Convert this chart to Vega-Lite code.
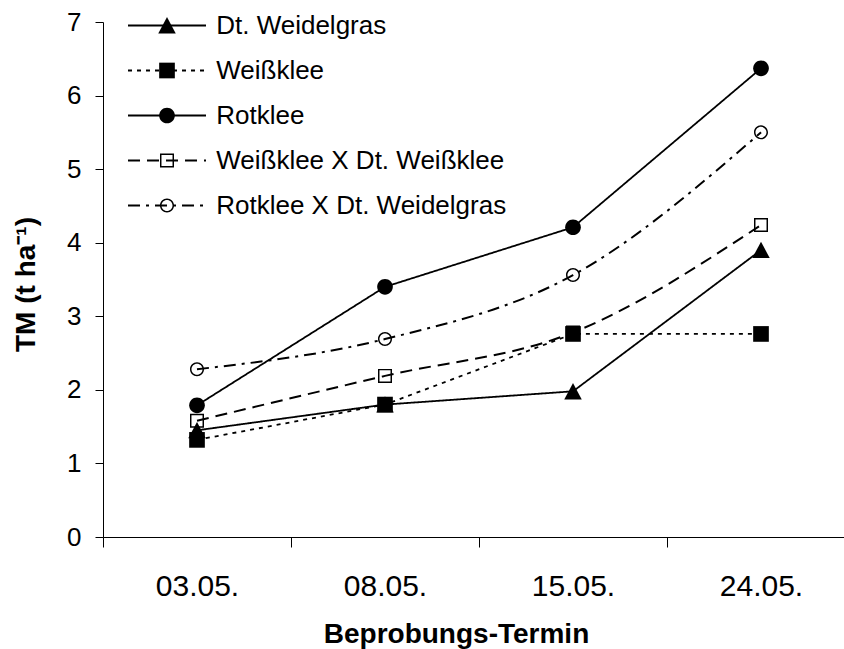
{
  "$schema": "https://vega.github.io/schema/vega-lite/v6.json",
  "autosize": {"type": "none"},
  "width": 741,
  "height": 515,
  "padding": {"left": 103, "top": 22, "right": 0, "bottom": 112},
  "background": "white",
  "config": {
    "view": {"stroke": null},
    "font": "Liberation Sans",
    "axis": {"grid": false, "domainColor": "black", "tickColor": "black", "labelColor": "black", "titleColor": "black", "labelFont": "Liberation Sans", "titleFont": "Liberation Sans", "domainWidth": 1, "tickWidth": 1}
  },
  "data": {
    "values": [
      {"termin": "03.05.", "series": "Dt. Weidelgras", "tm": 1.45},
      {"termin": "08.05.", "series": "Dt. Weidelgras", "tm": 1.8},
      {"termin": "15.05.", "series": "Dt. Weidelgras", "tm": 1.98},
      {"termin": "24.05.", "series": "Dt. Weidelgras", "tm": 3.9},
      {"termin": "03.05.", "series": "Weißklee", "tm": 1.32},
      {"termin": "08.05.", "series": "Weißklee", "tm": 1.8},
      {"termin": "15.05.", "series": "Weißklee", "tm": 2.76},
      {"termin": "24.05.", "series": "Weißklee", "tm": 2.76},
      {"termin": "03.05.", "series": "Rotklee", "tm": 1.79},
      {"termin": "08.05.", "series": "Rotklee", "tm": 3.4},
      {"termin": "15.05.", "series": "Rotklee", "tm": 4.21},
      {"termin": "24.05.", "series": "Rotklee", "tm": 6.37},
      {"termin": "03.05.", "series": "Weißklee X Dt. Weißklee", "tm": 1.58},
      {"termin": "08.05.", "series": "Weißklee X Dt. Weißklee", "tm": 2.19},
      {"termin": "15.05.", "series": "Weißklee X Dt. Weißklee", "tm": 2.78},
      {"termin": "24.05.", "series": "Weißklee X Dt. Weißklee", "tm": 4.24},
      {"termin": "03.05.", "series": "Rotklee X Dt. Weidelgras", "tm": 2.28},
      {"termin": "08.05.", "series": "Rotklee X Dt. Weidelgras", "tm": 2.69},
      {"termin": "15.05.", "series": "Rotklee X Dt. Weidelgras", "tm": 3.56},
      {"termin": "24.05.", "series": "Rotklee X Dt. Weidelgras", "tm": 5.5}
    ]
  },
  "encoding": {
    "x": {
      "field": "termin", "type": "nominal",
      "scale": {"type": "band", "range": [0, 752], "paddingInner": 0, "paddingOuter": 0},
      "axis": {"title": "Beprobungs-Termin", "labelAngle": 0, "labelFontSize": 30, "labelBaseline": "alphabetic", "labelPadding": 48, "titleFontSize": 28, "titleFontWeight": "bold", "titleBaseline": "alphabetic", "titleX": 353, "titleY": 105, "tickBand": "extent", "tickSize": 10}
    },
    "y": {
      "field": "tm", "type": "quantitative",
      "scale": {"domain": [0, 7], "nice": false, "zero": true},
      "axis": {"title": "TM (t ha⁻¹)", "values": [0, 1, 2, 3, 4, 5, 6, 7], "labelFontSize": 26, "titleFontSize": 28, "titleFontWeight": "bold", "titleBaseline": "alphabetic", "titleAngle": 270, "titleX": -69, "titleY": 262, "tickSize": 8, "labelPadding": 14}
    }
  },
  "layer": [
    {
      "transform": [{"filter": "datum.series == 'Dt. Weidelgras' || datum.series == 'Weißklee' || datum.series == 'Rotklee'"}],
      "mark": {"type": "line", "color": "black", "strokeWidth": 1.8, "interpolate": "linear"},
      "encoding": {
        "strokeDash": {
          "field": "series", "type": "nominal",
          "scale": {"domain": ["Dt. Weidelgras", "Weißklee", "Rotklee", "Weißklee X Dt. Weißklee", "Rotklee X Dt. Weidelgras"], "range": [[1, 0], [4, 5], [1, 0], [12, 7], [12, 6, 3, 6]]},
          "legend": {"orient": "none", "legendX": 51.0, "legendY": -9.5, "title": null, "symbolType": "M-5.57,0H5.57", "symbolSize": 196, "symbolStrokeColor": "black", "symbolStrokeWidth": 1.8, "labelFontSize": 26, "labelFont": "Liberation Sans", "labelColor": "black", "labelOffset": 36.2, "rowPadding": 19, "padding": 0, "labelLimit": 500}
        }
      }
    },
    {
      "transform": [{"filter": "datum.series == 'Weißklee X Dt. Weißklee' || datum.series == 'Rotklee X Dt. Weidelgras'"}],
      "mark": {"type": "line", "color": "black", "strokeWidth": 2, "interpolate": "monotone"},
      "encoding": {
        "strokeDash": {"field": "series", "type": "nominal"}
      }
    },
    {
      "mark": {"type": "point", "filled": true, "fill": "black", "strokeWidth": 0, "size": 196, "opacity": 1},
      "encoding": {
        "shape": {
          "field": "series", "type": "nominal", "sort": null,
          "scale": {"range": [
            "M0,-1.2L1.25,1.15L-1.25,1.15Z",
            "M-1.12,-1.12H1.12V1.12H-1.12Z",
            "M-1.12,0A1.12,1.12,0,1,1,1.12,0A1.12,1.12,0,1,1,-1.12,0Z",
            "M-1,-1H1V1H-1Z M-0.79,-0.79V0.79H0.79V-0.79Z",
            "M-1,0A1,1,0,1,1,1,0A1,1,0,1,1,-1,0Z M-0.79,0A0.79,0.79,0,1,0,0.79,0A0.79,0.79,0,1,0,-0.79,0Z"
          ]},
          "legend": {"orient": "none", "legendX": 51.0, "legendY": -9.5, "title": null, "symbolSize": 196, "symbolFillColor": "black", "symbolStrokeWidth": 0, "symbolOpacity": 1, "labelFontSize": 26, "labelFont": "Liberation Sans", "labelColor": "transparent", "labelOffset": 36.2, "rowPadding": 19, "padding": 0, "labelLimit": 500}
        }
      }
    }
  ]
}
